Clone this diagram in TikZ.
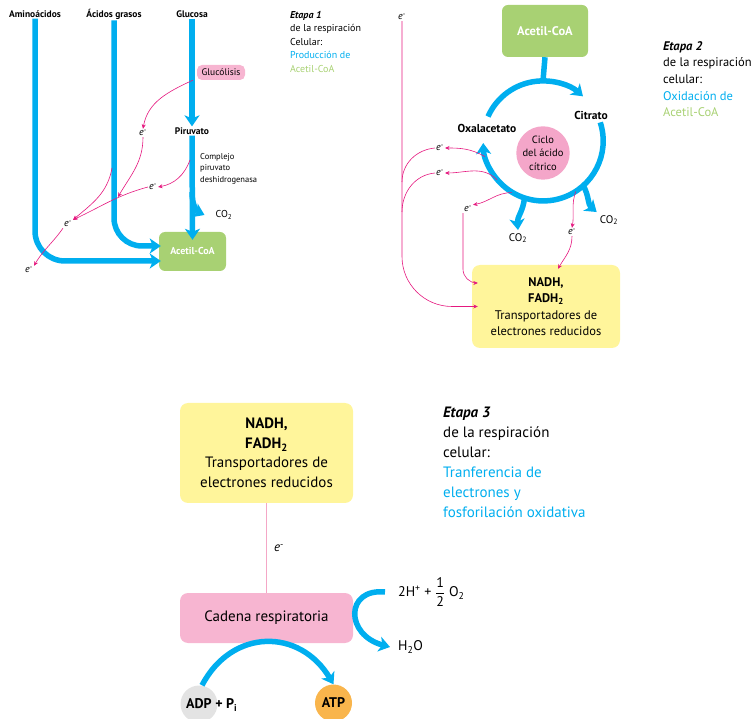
\documentclass[tikz,border=0pt]{standalone}
\usepackage{fontspec}
\setmainfont{PT Sans}
\usepackage{tikz}
\usetikzlibrary{arrows.meta, positioning, calc}
\definecolor{flowBlue}{HTML}{00AEEF}
\definecolor{ePink}{HTML}{E5197F}
\definecolor{lightPink}{HTML}{F4A7C6}
\definecolor{boxGreen}{HTML}{A8D173}
\definecolor{boxYellow}{HTML}{FFF59B}
\definecolor{boxPink}{HTML}{F7B5D1}
\definecolor{cyclePink}{HTML}{F4A6C9}
\definecolor{adpGray}{HTML}{E3E3E3}
\definecolor{atpOrange}{HTML}{F9B54C}

\begin{document}
\begin{tikzpicture}[x=1pt, y=1pt,
	flow/.style={-{Stealth[length=11pt,width=15pt,inset=3pt]}, line width=5.5pt, flowBlue},
	flowline/.style={line width=5.5pt, flowBlue},
	eflow/.style={-{Stealth[length=4.5pt,width=4pt]}, line width=0.6pt, ePink},
	eline/.style={line width=0.6pt, ePink},
	elabel/.style={inner sep=1pt, font=\fontsize{10}{12}\selectfont},
	title/.style={inner sep=1pt, font=\fontsize{9.5}{12}\selectfont\bfseries},
	molec/.style={inner sep=1pt, font=\fontsize{11}{13}\selectfont},
	greenbox/.style={
		rounded corners=6pt, fill=boxGreen, text=white, inner sep=0pt,
		font=\fontsize{10}{12}\selectfont\bfseries
	},
	yellowbox/.style={
		rounded corners=8pt, fill=boxYellow, align=center, inner sep=0pt,
		minimum width=148pt, minimum height=83pt
	},
	pinkbox/.style={
		rounded corners=8pt, fill=boxPink, align=center, inner sep=0pt
	},
	stagetext/.style={anchor=north west, align=left, inner sep=0pt}
	]
	
	\useasboundingbox (0,0) rectangle (756,-719);
	
	% Etapa 1
	\node[title] (amino) at (35,-14) {Aminoácidos};
	\node[title] (grasos) at (114,-14) {Ácidos grasos};
	\node[title] (glucosa) at (192,-14) {Glucosa};
	\node[pinkbox, rounded corners=5pt, minimum width=48pt, minimum height=15pt,
		font=\fontsize{9.5}{11}\selectfont] (glucolisis) at (221,-72.5) {Glucólisis};
	\node[title] (piruvato) at (192,-131) {Piruvato};
	\node[stagetext, font=\fontsize{8.5}{11.5}\selectfont] (complejo) at (200,-153)
	{Complejo\\piruvato\\deshidrogenasa};
	\node[greenbox, minimum width=67pt, minimum height=39pt] (acetil1) at (192.5,-251.5) {Acetil-CoA};
	\node[molec, font=\fontsize{10}{12}\selectfont] (co2a) at (224,-215) {CO\textsubscript{2}};
	\node[elabel] (e1) at (143,-133) {\textit{e}\textsuperscript{-}};
	\node[elabel] (e2) at (153,-187) {\textit{e}\textsuperscript{-}};
	\node[elabel] (e3) at (68,-224) {\textit{e}\textsuperscript{-}};
	\node[elabel] (e4) at (29,-270) {\textit{e}\textsuperscript{-}};
	\coordinate (g1) at (118,-197);
	\coordinate (g2) at (112,-168);
	\coordinate (p1) at (190,-160);
	\coordinate (branch) at (192,-192);
	
	\draw[flow, rounded corners=30pt] (amino.south) |- ([xshift=2pt,yshift=-9.5pt]acetil1.west);
	\draw[flow, rounded corners=28pt] (grasos.south) |- ([xshift=2pt,yshift=5.5pt]acetil1.west);
	\draw[flow] (glucosa.south) -- (piruvato.north);
	\draw[flow] (piruvato.south) -- ([yshift=-8pt]acetil1.north);
	\draw[flow] (branch) .. controls (192,-207) and (198,-212) .. ([xshift=-10pt]co2a.west);
	
	\draw[eflow] ([xshift=-4pt]glucolisis.south west) to[out=205,in=80] (e1.north);
	\draw[eflow] (e1.south) to[out=-90,in=60] (g1);
	\draw[eflow] (g2) to[out=-100,in=40] (e3.north east);
	\draw[eflow] (p1) to[out=-110,in=10] (e2.east);
	\draw[eflow] (e2.west) to[out=195,in=25] (e3.north east);
	\draw[eflow] (e3.south west) to[out=-125,in=60] (e4.north east);
	
	\node[stagetext, font=\fontsize{10}{13.5}\selectfont] (etapa1) at (290,-11)
	{\textbf{\textit{Etapa 1}}\\de la respiración\\Celular:\\
		\textcolor{flowBlue}{Producción de}\\\textcolor{boxGreen}{Acetil-CoA}};
	
	% Etapa 2
	\node[greenbox, minimum width=86pt, minimum height=52pt,
		font=\fontsize{12.5}{15}\selectfont\bfseries] (acetil2) at (545,-31) {Acetil-CoA};
	\node[circle, minimum size=120pt, inner sep=0pt] (ciclo) at (543,-141) {};
	\node[circle, fill=cyclePink, minimum size=50pt, inner sep=0pt, align=center,
		font=\fontsize{10.5}{13.5}\selectfont] (centro) at (543,-153) {Ciclo\\del ácido\\cítrico};
	\node[title, font=\fontsize{11.5}{14}\selectfont\bfseries] (oxal) at (487,-128) {Oxalacetato};
	\node[title, font=\fontsize{11.5}{14}\selectfont\bfseries] (citrato) at (591,-115) {Citrato};
	\node[molec] (co2b) at (518,-238) {CO\textsubscript{2}};
	\node[molec] (co2c) at (609,-220) {CO\textsubscript{2}};
	\node[yellowbox, font=\fontsize{12.5}{16.5}\selectfont] (nadh1) at (546,-306.5)
	{\textbf{NADH,}\\\textbf{FADH\textsubscript{2}}\\Transportadores de\\electrones reducidos};
	\node[elabel] (eTop) at (402,-17) {\textit{e}\textsuperscript{-}};
	\node[elabel] (eA) at (440,-148) {\textit{e}\textsuperscript{-}};
	\node[elabel] (eB) at (440,-173) {\textit{e}\textsuperscript{-}};
	\node[elabel] (eC) at (468,-209) {\textit{e}\textsuperscript{-}};
	\node[elabel] (eD) at (572,-232) {\textit{e}\textsuperscript{-}};
	\coordinate (jA) at (402,-182);
	\coordinate (jB) at (402,-212);
	
	\draw[flowline] (acetil2.south) -- (ciclo.north);
	\draw[flow] (ciclo.156) arc[start angle=156, end angle=48, radius=60pt];
	\draw[flow] (ciclo.18) arc[start angle=18, end angle=-178, radius=60pt];
	\draw[flow] (ciclo.-108) to[out=-95,in=95] ([yshift=2pt]co2b.north);
	\draw[flow] (ciclo.-48) to[out=-60,in=140] ([xshift=-2pt,yshift=2pt]co2c.north west);
	
	\draw[eflow] (ciclo.195) to[out=150,in=0] (eA.east);
	\draw[eflow] (ciclo.220) to[out=135,in=0] (eB.east);
	\draw[eflow] (ciclo.239) to[out=180,in=10] (eC.north east);
	\draw[eflow] (ciclo.-57) to[out=-110,in=80] (eD.north);
	\draw[eflow] (eD.south) to[out=-90,in=60] ([xshift=12pt,yshift=-4pt]nadh1.north);
	\draw[eflow, rounded corners=14pt] (eC.south west) |- ([xshift=6pt,yshift=23.5pt]nadh1.west);
	\draw[eflow, rounded corners=50pt] (eTop.south) |- ([xshift=6pt]nadh1.west);
	\draw[eline] (eA.west) to[out=185,in=90] (jA);
	\draw[eline] (eB.west) to[out=185,in=90] (jB);
	
	\node[stagetext, font=\fontsize{12.5}{16.7}\selectfont] (etapa2) at (663,-41)
	{\textbf{\textit{Etapa 2}}\\de la respiración\\celular:\\
		\textcolor{flowBlue}{Oxidación de}\\\textcolor{boxGreen}{Acetil-CoA}};
	
	% Etapa 3
	\node[yellowbox, minimum width=173pt, minimum height=100pt,
		font=\fontsize{15}{19.5}\selectfont] (nadh2) at (266.5,-453)
	{\textbf{NADH,}\\\textbf{FADH\textsubscript{2}}\\Transportadores de\\electrones reducidos};
	\node[pinkbox, minimum width=173pt, minimum height=50pt,
		font=\fontsize{15}{18}\selectfont] (cadena) at (266.5,-618) {Cadena respiratoria};
	\node[anchor=west, inner sep=1pt, font=\fontsize{14}{16}\selectfont] (oxig) at (397,-592)
	{2H\textsuperscript{+} + $\displaystyle\frac{\mbox{1}}{\mbox{2}}$ O\textsubscript{2}};
	\node[anchor=west, inner sep=1pt, font=\fontsize{14}{16}\selectfont] (agua) at (397,-647) {H\textsubscript{2}O};
	\node[circle, fill=adpGray, minimum size=37pt, inner sep=0pt] (adp) at (199,-704) {};
	\node[anchor=west, inner sep=0pt, font=\fontsize{14}{16}\selectfont\bfseries] (adptext) at (186,-705)
	{ADP + P\textsubscript{i}};
	\node[circle, fill=atpOrange, minimum size=37pt, inner sep=0pt,
		font=\fontsize{14}{16}\selectfont\bfseries] (atp) at (333.5,-703) {ATP};
	
	\draw[lightPink, line width=1pt] (nadh2.south) -- node[right=6pt, elabel, font=\fontsize{13}{15}\selectfont, text=black]
	{\textit{e}\textsuperscript{-}} (cadena.north);
	\draw[flow] ([xshift=-12pt]oxig.west) .. controls (345,-588) and (345,-635) .. ([xshift=-7pt]agua.west);
	\draw[flow] ([xshift=3pt]adp.north) .. controls (232,-628) and (300,-628) .. (atp.north);
	
	\node[stagetext, font=\fontsize{15}{20}\selectfont] (etapa3) at (443,-407)
	{\textbf{\textit{Etapa 3}}\\de la respiración\\celular:\\
		\textcolor{flowBlue}{Tranferencia de}\\\textcolor{flowBlue}{electrones y}\\
		\textcolor{flowBlue}{fosforilación oxidativa}};
	
\end{tikzpicture}
\end{document}
